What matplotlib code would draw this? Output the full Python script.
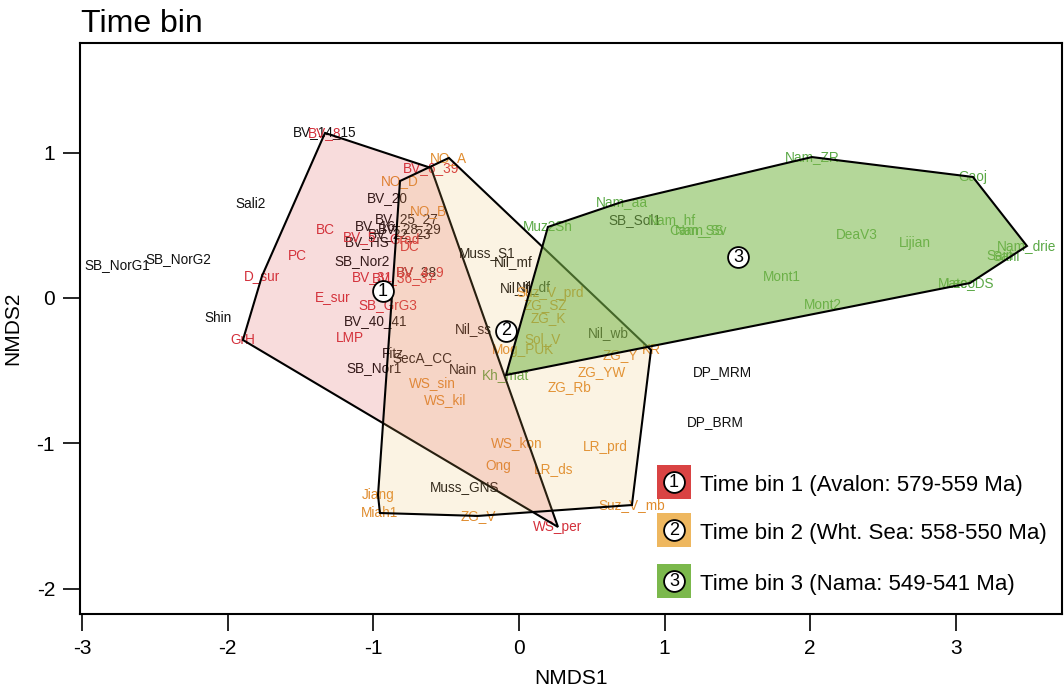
import numpy as np
import matplotlib
matplotlib.use("Agg")
import matplotlib.pyplot as plt
from matplotlib.patches import Polygon, Rectangle

plt.rcParams['font.family'] = ['Liberation Sans', 'DejaVu Sans']
plt.rcParams['axes.unicode_minus'] = False

# --- data: NMDS scores per site, by time bin ---
bin1_names = ["BV_8", "BV_6_39", "BC", "PC", "D_sur", "BV_5", "Grad", "DC", "BV_31",
              "BV_36_37", "BV_4_9", "E_sur", "SB_GrG3", "GrH", "LMP", "WS_per"]
bin1_x = [-1.332, -0.604, -1.332, -1.525, -1.765, -1.092, -0.783, -0.749, -1.010,
          -0.790, -0.680, -1.277, -0.900, -1.896, -1.161, 0.268]
bin1_y = [1.136, 0.895, 0.468, 0.289, 0.151, 0.420, 0.399, 0.351, 0.145,
          0.138, 0.179, 0.007, -0.048, -0.289, -0.275, -1.576]

bin2_names = ["NO_A", "NO_D", "NO_B", "WS_sin", "WS_kil", "ZG_Rb", "WS_kon", "LR_prd",
              "Ong", "LR_ds", "Jiang", "Miah1", "ZG_V", "Suz_V_mb", "Suz_V_prd", "ZG_SZ",
              "ZG_K", "Sol_V", "Mog_PUK", "ZG_Y", "KR", "ZG_YW"]
bin2_x = [-0.481, -0.817, -0.625, -0.598, -0.508, 0.350, -0.014, 0.591,
          -0.144, 0.240, -0.968, -0.955, -0.282, 0.776, 0.213, 0.179,
          0.199, 0.165, 0.027, 0.694, 0.907, 0.570]
bin2_y = [0.964, 0.805, 0.599, -0.585, -0.702, -0.613, -0.998, -1.025,
          -1.156, -1.177, -1.356, -1.480, -1.500, -1.425, 0.034, -0.048,
          -0.138, -0.282, -0.358, -0.392, -0.358, -0.509]

bin3_names = ["Kh_mat", "Muz2Sh", "Nam_aa", "Nam_ZR", "Gaoj", "Nam_drie", "Sahi", "Sain",
              "Lec_DS", "Mateo", "Mont1", "Mont2", "DeaV3", "Lijian", "Nam_hf", "Cam_SS",
              "Nam_Sv"]
bin3_x = [-0.089, 0.199, 0.707, 2.012, 3.118, 3.489, 3.345, 3.304,
          3.098, 3.008, 1.806, 2.088, 2.321, 2.720, 1.051, 1.223, 1.250]
bin3_y = [-0.530, 0.489, 0.661, 0.970, 0.833, 0.358, 0.282, 0.289,
          0.103, 0.096, 0.145, -0.048, 0.434, 0.379, 0.537, 0.468, 0.468]

other_names = ["BV_14_15", "Sali2", "BV_20", "BV_25_27", "BV_16", "BV_28_29", "BV_22_23",
               "BV_HS", "SB_Nor2", "SB_NorG1", "SB_NorG2", "BV_38", "Shin", "BV_40_41",
               "Fitz", "SecA_CC", "SB_Nor1", "Nain", "Nil_ss", "Muss_GNS", "SB_Sol1",
               "Muss_S1", "Nil_mf", "Nil_lf", "Nil_df", "Nil_wb", "DP_MRM", "DP_BRM"]
other_x = [-1.332, -1.841, -0.907, -0.769, -0.989, -0.749, -0.817,
           -1.044, -1.078, -2.761, -2.342, -0.701, -2.067, -0.982,
           -0.865, -0.666, -0.996, -0.385, -0.316, -0.371, 0.797,
           -0.220, -0.041, -0.027, 0.096, 0.611, 1.401, 1.346]
other_y = [1.142, 0.647, 0.688, 0.544, 0.496, 0.475, 0.440,
           0.385, 0.255, 0.227, 0.268, 0.179, -0.138, -0.158,
           -0.385, -0.413, -0.482, -0.496, -0.213, -1.301, 0.537,
           0.310, 0.248, 0.069, 0.076, -0.241, -0.509, -0.853]

centroid_x = [-0.934, -0.089, 1.504]
centroid_y = [0.048, -0.227, 0.282]
bin_labels = ["Time bin 1 (Avalon: 579-559 Ma)",
              "Time bin 2 (Wht. Sea: 558-550 Ma)",
              "Time bin 3 (Nama: 549-541 Ma)"]

text_cols = ["#d32f3a", "#e08c2e", "#5aa845"]
key_cols = ["#d94343", "#eeb75f", "#7bb84c"]
fill_cols = [(0.85, 0.26, 0.26, 0.18), (0.93, 0.72, 0.37, 0.17), (0.48, 0.72, 0.29, 0.56)]


def hull(xs, ys):
    # convex hull, like R's chull
    pts = sorted(set(zip(xs, ys)))

    def cross(o, a, b):
        return (a[0] - o[0]) * (b[1] - o[1]) - (a[1] - o[1]) * (b[0] - o[0])
    lower, upper = [], []
    for p in pts:
        while len(lower) >= 2 and cross(lower[-2], lower[-1], p) <= 0:
            lower.pop()
        lower.append(p)
    for p in reversed(pts):
        while len(upper) >= 2 and cross(upper[-2], upper[-1], p) <= 0:
            upper.pop()
        upper.append(p)
    return np.array(lower[:-1] + upper[:-1])


fig = plt.figure(figsize=(10.64, 6.92), dpi=100)
ax = fig.add_axes([80 / 1064, 78 / 692, 982 / 1064, 571 / 692])

groups = [(bin1_names, bin1_x, bin1_y), (bin2_names, bin2_x, bin2_y), (bin3_names, bin3_x, bin3_y)]

lab_size = 9.8
for n, x, y in zip(other_names, other_x, other_y):
    ax.text(x, y, n, fontsize=lab_size, color="#111111", ha="center", va="center", zorder=1)
for i, (names, xs, ys) in enumerate(groups):
    for n, x, y in zip(names, xs, ys):
        ax.text(x, y, n, fontsize=lab_size, color=text_cols[i], ha="center", va="center", zorder=1)

# hulls drawn over the labels, semi-transparent
for i, (names, xs, ys) in enumerate(groups):
    ax.add_patch(Polygon(hull(xs, ys), closed=True, facecolor=fill_cols[i],
                         edgecolor="black", linewidth=1.5, zorder=2))

ax.plot(centroid_x, centroid_y, "o", ms=15, mfc="white", mec="black", mew=1.3, zorder=4)
for i, (x, y) in enumerate(zip(centroid_x, centroid_y)):
    ax.text(x, y, str(i + 1), fontsize=13, ha="center", va="center", zorder=5)

ax.set_xlim(-3.015, 3.73)
ax.set_ylim(-2.175, 1.755)
ax.set_xticks([-3, -2, -1, 0, 1, 2, 3])
ax.set_yticks([-2, -1, 0, 1])
ax.tick_params(direction="out", length=12, width=1.2, labelsize=15, pad=6)
for s in ax.spines.values():
    s.set_linewidth(1.5)
ax.set_xlabel("NMDS1", fontsize=15, labelpad=8)
ax.set_ylabel("NMDS2", fontsize=15, labelpad=10)

fig.text(81 / 1064, 1 - 32 / 692, "Time bin", fontsize=23, va="baseline", ha="left")

# key
sq_w = 34 / 982
sq_h = 34 / 571
sq_bottoms = [0.2014, 0.1173, 0.028]
for i, b in enumerate(sq_bottoms):
    ax.add_patch(Rectangle((0.5876, b), sq_w, sq_h, transform=ax.transAxes,
                           facecolor=key_cols[i], edgecolor="none", zorder=6, clip_on=False))
    cx, cy = 0.5876 + sq_w / 2, b + sq_h / 2
    ax.plot([cx], [cy], "o", ms=15, mfc="white", mec="black", mew=1.3,
            transform=ax.transAxes, zorder=7, clip_on=False)
    ax.text(cx, cy, str(i + 1), fontsize=13, ha="center", va="center",
            transform=ax.transAxes, zorder=8)
    ax.text(0.6314, cy - 0.006, bin_labels[i], fontsize=16, ha="left", va="center",
            transform=ax.transAxes, zorder=8)

fig.savefig("out.png", dpi=100)
